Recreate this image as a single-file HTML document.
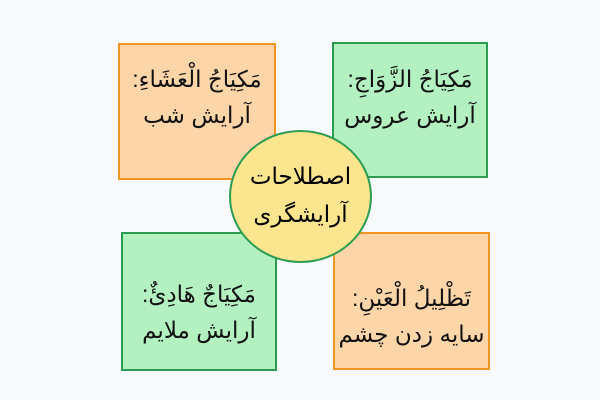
<!DOCTYPE html>
<html><head><meta charset="utf-8"><style>
body{margin:0;width:600px;height:400px;background:#f8f9fb;position:relative;overflow:hidden;font-family:"Liberation Sans","DejaVu Sans","Noto Sans CJK SC",sans-serif;}
.b{position:absolute;box-sizing:border-box;display:flex;flex-direction:column;align-items:center;justify-content:center;direction:rtl;font-size:23px;line-height:36px;color:#111;}
.o{background:#fcd6a9;border:2px solid #f0951f;}
.g{background:#b3f1c1;border:2px solid #2b9c52;}
.c{position:absolute;left:229px;top:130px;width:143px;height:133px;border-radius:50%;background:#fbe68f;border:2px solid #2b9c52;box-sizing:border-box;display:flex;flex-direction:column;align-items:center;justify-content:center;direction:rtl;font-size:23px;line-height:38px;padding-bottom:4px;}
</style></head><body>
<div class="b o" style="left:118px;top:43px;width:158px;height:137px;padding-bottom:30px"><div>مَكِيَاجُ الْعَشَاءِ:</div><div>آرایش شب</div></div>
<div class="b g" style="left:332px;top:42px;width:156px;height:136px;padding-bottom:26px"><div>مَكِيَاجُ الزَّوَاجِ:</div><div>آرایش عروس</div></div>
<div class="b g" style="left:121px;top:232px;width:156px;height:139px;padding-top:20px"><div>مَكِيَاجٌ هَادِئٌ:</div><div>آرایش ملایم</div></div>
<div class="b o" style="left:333px;top:232px;width:157px;height:138px;padding-top:30px"><div>تَظْلِيلُ الْعَيْنِ:</div><div>سایه زدن چشم</div></div>
<div class="c"><div>اصطلاحات</div><div>آرایشگری</div></div>
</body></html>
